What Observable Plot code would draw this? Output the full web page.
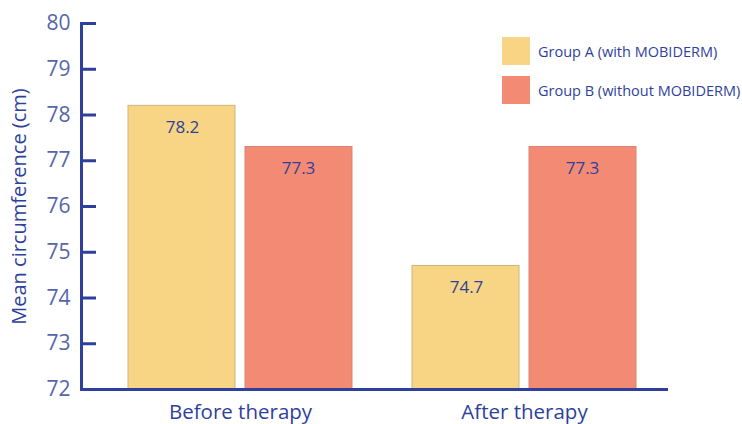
<!DOCTYPE html>
<html><head><meta charset="utf-8">
<script src="https://cdn.jsdelivr.net/npm/d3@7"></script>
<script src="https://cdn.jsdelivr.net/npm/@observablehq/plot@0.6"></script>
<style>
body{margin:0;background:#fff;font-family:"Open Sans",sans-serif;}
#wrap{position:relative;width:742px;height:424px;}
.legend{position:absolute;left:502px;top:37px;font-size:14.5px;color:#2f3f9c;}
.legend .row{display:flex;align-items:center;height:28px;margin-bottom:11px;}
.legend .sw{width:28px;height:28px;margin-right:8px;}
</style></head>
<body><div id="wrap"></div>
<script>
const categories = ["Before therapy", "After therapy"];
const groups = ["Group A (with MOBIDERM)", "Group B (without MOBIDERM)"];
const groupA = [78.2, 74.7];
const groupB = [77.3, 77.3];
const yTicks = [72, 73, 74, 75, 76, 77, 78, 79, 80];
const yLabel = "Mean circumference (cm)";
const colors = ["#f7d584", "#f38a74"];
const strokes = ["#cdb57e", "#d98571"];

const dataA = categories.map((c, i) => ({cat: c, v: groupA[i]}));
const dataB = categories.map((c, i) => ({cat: c, v: groupB[i]}));
const axisColor = "#2e3f9c";
const textColor = "#2f3f9c";

const chart = Plot.plot({
  width: 742, height: 424,
  marginLeft: 81, marginRight: 76, marginTop: 23, marginBottom: 35,
  style: {fontFamily: "Open Sans, sans-serif", background: "white"},
  x: {domain: categories, paddingInner: 0.2127, paddingOuter: 0.1345, align: 0.601},
  y: {domain: [72, 80]},
  marks: [
    Plot.barY(dataA, {x: "cat", y1: 72, y2: "v", fill: colors[0], stroke: strokes[0], strokeWidth: 1, insetRight: 117}),
    Plot.barY(dataB, {x: "cat", y1: 72, y2: "v", fill: colors[1], stroke: strokes[1], strokeWidth: 1, insetLeft: 117}),
    Plot.text(dataA, {x: "cat", y: "v", text: d => d.v.toFixed(1), dx: -58, dy: 22, fill: textColor, fontSize: 17}),
    Plot.text(dataB, {x: "cat", y: "v", text: d => d.v.toFixed(1), dx: 58, dy: 22, fill: textColor, fontSize: 17}),
    Plot.axisY({ticks: yTicks, tickSize: 0, tickPadding: 11, fontSize: 21, color: "#5566aa", label: null}),
    Plot.axisY({ticks: yTicks, tickSize: -15, text: null, stroke: axisColor, strokeWidth: 3, label: null}),
    Plot.text([yLabel], {frameAnchor: "left", textAnchor: "middle", rotate: -90, dx: -62, fontSize: 20, fill: textColor}),
    Plot.axisX({tickSize: 0, tickPadding: 15, fontSize: 20.5, color: textColor, label: null}),
    Plot.frame({anchor: "left", stroke: axisColor, strokeWidth: 3}),
    Plot.frame({anchor: "bottom", stroke: axisColor, strokeWidth: 3})
  ]
});
const wrap = document.getElementById("wrap");
wrap.appendChild(chart);

const legend = document.createElement("div");
legend.className = "legend";
groups.forEach((g, i) => {
  const row = document.createElement("div");
  row.className = "row";
  const sw = document.createElement("div");
  sw.className = "sw"; sw.style.background = colors[i];
  const t = document.createElement("span"); t.textContent = g;
  row.appendChild(sw); row.appendChild(t);
  legend.appendChild(row);
});
wrap.appendChild(legend);
</script></body></html>
